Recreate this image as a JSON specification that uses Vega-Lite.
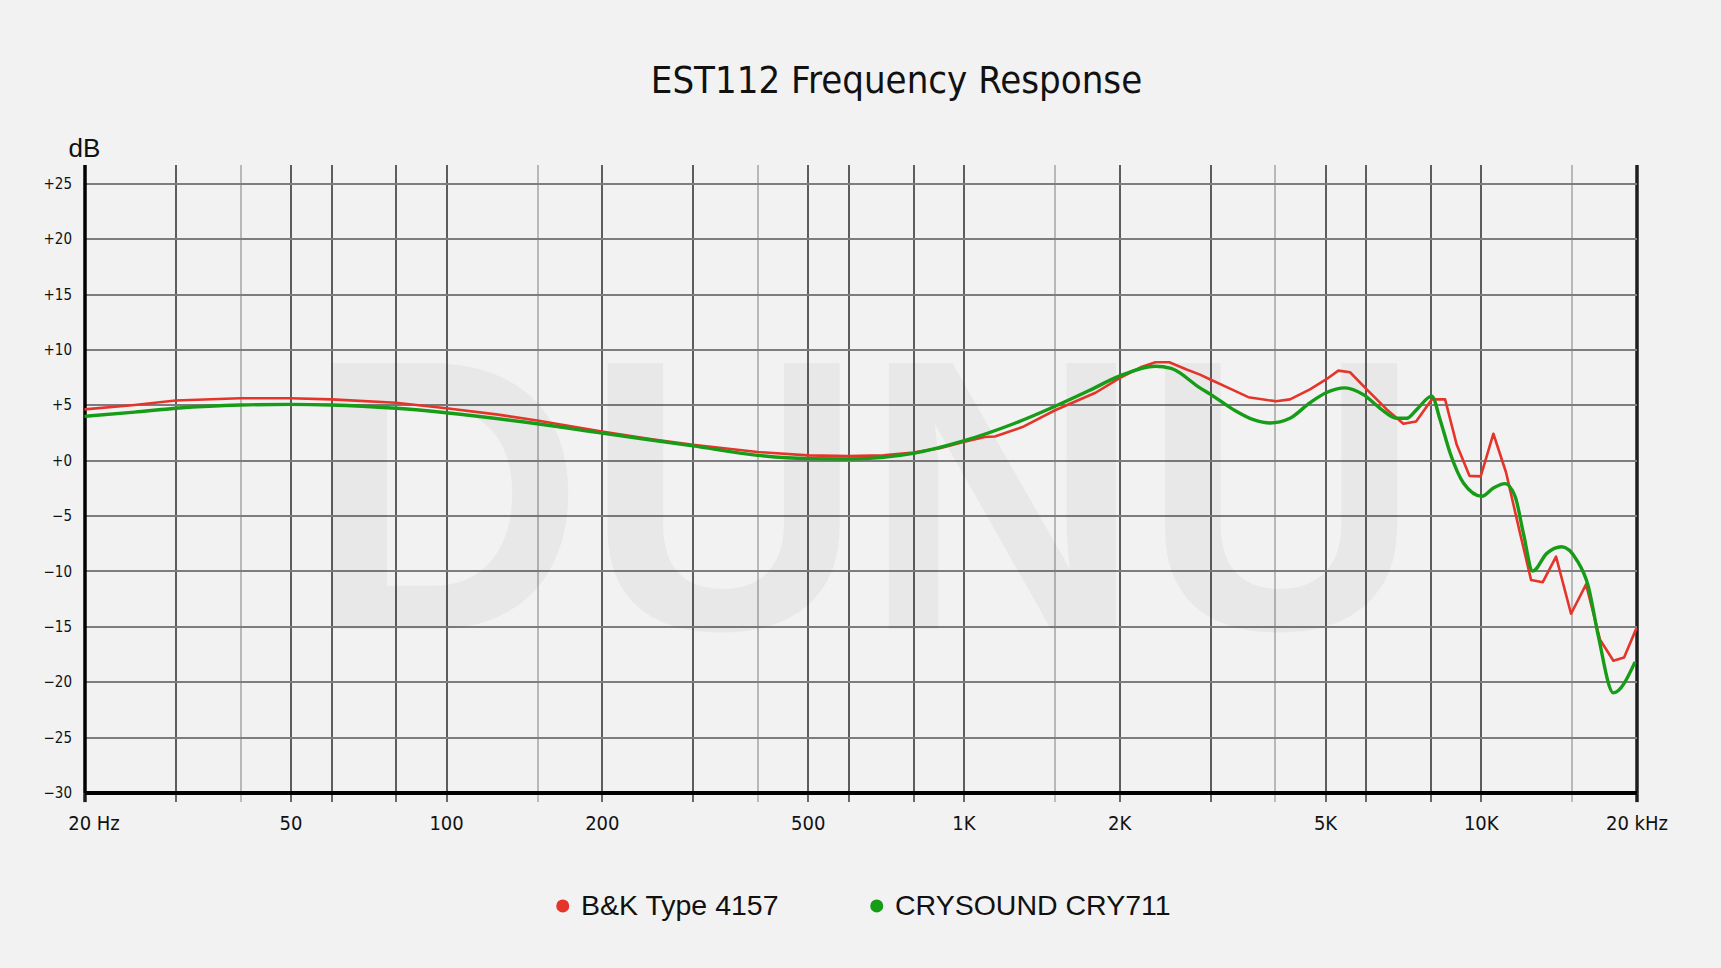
{
  "$schema": "https://vega.github.io/schema/vega-lite/v6.json",
  "description": "EST112 frequency response, B&K Type 4157 vs CRYSOUND CRY711",
  "width": 1552,
  "height": 628,
  "autosize": "none",
  "padding": {"left": 84.5, "top": 164.6, "right": 84.5, "bottom": 175.4},
  "background": "#f2f2f2",
  "config": {"view": {"stroke": null}, "font": "Liberation Sans"},
  "title": {
    "text": "EST112  Frequency Response",
    "font": "DejaVu Sans Condensed, sans-serif",
    "fontSize": 38,
    "fontWeight": "normal",
    "color": "#111111",
    "anchor": "middle",
    "frame": "group",
    "baseline": "alphabetic",
    "offset": 4,
    "dx": 36
  },
  "layer": [
    {
      "data": {"values": [{}]},
      "mark": {
        "type": "text",
        "font": "Liberation Sans",
        "fontWeight": "bold",
        "fontSize": 386,
        "align": "center",
        "baseline": "alphabetic",
        "color": "#000000",
        "opacity": 0.037
      },
      "encoding": {
        "x": {"datum": 640, "type": "quantitative"},
        "y": {"datum": -15.2, "type": "quantitative"},
        "text": {"value": "DUNU"}
      }
    },
    {
      "data": {
        "values": [
          {"mic": "B&K Type 4157", "freq": 20, "db": 4.6},
          {"mic": "B&K Type 4157", "freq": 25, "db": 5.0},
          {"mic": "B&K Type 4157", "freq": 30, "db": 5.4},
          {"mic": "B&K Type 4157", "freq": 40, "db": 5.6},
          {"mic": "B&K Type 4157", "freq": 50, "db": 5.6},
          {"mic": "B&K Type 4157", "freq": 60, "db": 5.5},
          {"mic": "B&K Type 4157", "freq": 80, "db": 5.2},
          {"mic": "B&K Type 4157", "freq": 100, "db": 4.7},
          {"mic": "B&K Type 4157", "freq": 125, "db": 4.15},
          {"mic": "B&K Type 4157", "freq": 150, "db": 3.6},
          {"mic": "B&K Type 4157", "freq": 200, "db": 2.6},
          {"mic": "B&K Type 4157", "freq": 250, "db": 1.9},
          {"mic": "B&K Type 4157", "freq": 300, "db": 1.4},
          {"mic": "B&K Type 4157", "freq": 400, "db": 0.75},
          {"mic": "B&K Type 4157", "freq": 500, "db": 0.45},
          {"mic": "B&K Type 4157", "freq": 600, "db": 0.38},
          {"mic": "B&K Type 4157", "freq": 700, "db": 0.45},
          {"mic": "B&K Type 4157", "freq": 800, "db": 0.7},
          {"mic": "B&K Type 4157", "freq": 900, "db": 1.1},
          {"mic": "B&K Type 4157", "freq": 1000, "db": 1.65},
          {"mic": "B&K Type 4157", "freq": 1100, "db": 2.1},
          {"mic": "B&K Type 4157", "freq": 1150, "db": 2.15},
          {"mic": "B&K Type 4157", "freq": 1200, "db": 2.45},
          {"mic": "B&K Type 4157", "freq": 1300, "db": 3.0},
          {"mic": "B&K Type 4157", "freq": 1500, "db": 4.5},
          {"mic": "B&K Type 4157", "freq": 1800, "db": 6.1},
          {"mic": "B&K Type 4157", "freq": 2000, "db": 7.4},
          {"mic": "B&K Type 4157", "freq": 2200, "db": 8.4},
          {"mic": "B&K Type 4157", "freq": 2350, "db": 8.85},
          {"mic": "B&K Type 4157", "freq": 2500, "db": 8.85},
          {"mic": "B&K Type 4157", "freq": 2700, "db": 8.2},
          {"mic": "B&K Type 4157", "freq": 2866, "db": 7.74},
          {"mic": "B&K Type 4157", "freq": 3000, "db": 7.3},
          {"mic": "B&K Type 4157", "freq": 3300, "db": 6.4},
          {"mic": "B&K Type 4157", "freq": 3554, "db": 5.7},
          {"mic": "B&K Type 4157", "freq": 4020, "db": 5.33},
          {"mic": "B&K Type 4157", "freq": 4278, "db": 5.5},
          {"mic": "B&K Type 4157", "freq": 4676, "db": 6.4},
          {"mic": "B&K Type 4157", "freq": 5022, "db": 7.3},
          {"mic": "B&K Type 4157", "freq": 5306, "db": 8.1},
          {"mic": "B&K Type 4157", "freq": 5588, "db": 7.95},
          {"mic": "B&K Type 4157", "freq": 6020, "db": 6.4},
          {"mic": "B&K Type 4157", "freq": 6580, "db": 4.6},
          {"mic": "B&K Type 4157", "freq": 7086, "db": 3.3},
          {"mic": "B&K Type 4157", "freq": 7498, "db": 3.5},
          {"mic": "B&K Type 4157", "freq": 8040, "db": 5.5},
          {"mic": "B&K Type 4157", "freq": 8532, "db": 5.5},
          {"mic": "B&K Type 4157", "freq": 8986, "db": 1.4},
          {"mic": "B&K Type 4157", "freq": 9508, "db": -1.4},
          {"mic": "B&K Type 4157", "freq": 9998, "db": -1.45},
          {"mic": "B&K Type 4157", "freq": 10578, "db": 2.4},
          {"mic": "B&K Type 4157", "freq": 11192, "db": -1.1},
          {"mic": "B&K Type 4157", "freq": 11912, "db": -6.6},
          {"mic": "B&K Type 4157", "freq": 12510, "db": -10.8},
          {"mic": "B&K Type 4157", "freq": 13178, "db": -11.0},
          {"mic": "B&K Type 4157", "freq": 13980, "db": -8.7},
          {"mic": "B&K Type 4157", "freq": 14946, "db": -13.85},
          {"mic": "B&K Type 4157", "freq": 15978, "db": -11.2},
          {"mic": "B&K Type 4157", "freq": 17006, "db": -16.2},
          {"mic": "B&K Type 4157", "freq": 18046, "db": -18.1},
          {"mic": "B&K Type 4157", "freq": 18924, "db": -17.8},
          {"mic": "B&K Type 4157", "freq": 20000, "db": -15.15},
          {"mic": "CRYSOUND CRY711", "freq": 20, "db": 3.97},
          {"mic": "CRYSOUND CRY711", "freq": 25, "db": 4.35},
          {"mic": "CRYSOUND CRY711", "freq": 30, "db": 4.7},
          {"mic": "CRYSOUND CRY711", "freq": 40, "db": 5.0},
          {"mic": "CRYSOUND CRY711", "freq": 50, "db": 5.05},
          {"mic": "CRYSOUND CRY711", "freq": 60, "db": 5.0},
          {"mic": "CRYSOUND CRY711", "freq": 80, "db": 4.7},
          {"mic": "CRYSOUND CRY711", "freq": 100, "db": 4.3},
          {"mic": "CRYSOUND CRY711", "freq": 150, "db": 3.3},
          {"mic": "CRYSOUND CRY711", "freq": 200, "db": 2.45},
          {"mic": "CRYSOUND CRY711", "freq": 300, "db": 1.3},
          {"mic": "CRYSOUND CRY711", "freq": 400, "db": 0.45},
          {"mic": "CRYSOUND CRY711", "freq": 500, "db": 0.15},
          {"mic": "CRYSOUND CRY711", "freq": 600, "db": 0.12},
          {"mic": "CRYSOUND CRY711", "freq": 800, "db": 0.63},
          {"mic": "CRYSOUND CRY711", "freq": 1000, "db": 1.75},
          {"mic": "CRYSOUND CRY711", "freq": 1250, "db": 3.3},
          {"mic": "CRYSOUND CRY711", "freq": 1500, "db": 4.86},
          {"mic": "CRYSOUND CRY711", "freq": 1750, "db": 6.3},
          {"mic": "CRYSOUND CRY711", "freq": 2000, "db": 7.6},
          {"mic": "CRYSOUND CRY711", "freq": 2350, "db": 8.5},
          {"mic": "CRYSOUND CRY711", "freq": 2520, "db": 8.3},
          {"mic": "CRYSOUND CRY711", "freq": 2866, "db": 6.54},
          {"mic": "CRYSOUND CRY711", "freq": 3010, "db": 5.93},
          {"mic": "CRYSOUND CRY711", "freq": 3326, "db": 4.58},
          {"mic": "CRYSOUND CRY711", "freq": 3635, "db": 3.67},
          {"mic": "CRYSOUND CRY711", "freq": 3914, "db": 3.37},
          {"mic": "CRYSOUND CRY711", "freq": 4278, "db": 3.8},
          {"mic": "CRYSOUND CRY711", "freq": 4676, "db": 5.2},
          {"mic": "CRYSOUND CRY711", "freq": 5022, "db": 6.1},
          {"mic": "CRYSOUND CRY711", "freq": 5466, "db": 6.54},
          {"mic": "CRYSOUND CRY711", "freq": 5930, "db": 5.93},
          {"mic": "CRYSOUND CRY711", "freq": 6388, "db": 4.7},
          {"mic": "CRYSOUND CRY711", "freq": 6880, "db": 3.8},
          {"mic": "CRYSOUND CRY711", "freq": 7192, "db": 3.8},
          {"mic": "CRYSOUND CRY711", "freq": 7518, "db": 4.58},
          {"mic": "CRYSOUND CRY711", "freq": 8040, "db": 5.8},
          {"mic": "CRYSOUND CRY711", "freq": 8344, "db": 3.67},
          {"mic": "CRYSOUND CRY711", "freq": 8724, "db": 0.66},
          {"mic": "CRYSOUND CRY711", "freq": 9258, "db": -2.05},
          {"mic": "CRYSOUND CRY711", "freq": 10056, "db": -3.25},
          {"mic": "CRYSOUND CRY711", "freq": 10578, "db": -2.5},
          {"mic": "CRYSOUND CRY711", "freq": 11142, "db": -2.1},
          {"mic": "CRYSOUND CRY711", "freq": 11650, "db": -3.25},
          {"mic": "CRYSOUND CRY711", "freq": 12090, "db": -6.6},
          {"mic": "CRYSOUND CRY711", "freq": 12602, "db": -10.0},
          {"mic": "CRYSOUND CRY711", "freq": 13416, "db": -8.4},
          {"mic": "CRYSOUND CRY711", "freq": 14340, "db": -7.8},
          {"mic": "CRYSOUND CRY711", "freq": 15330, "db": -9.0},
          {"mic": "CRYSOUND CRY711", "freq": 16144, "db": -11.4},
          {"mic": "CRYSOUND CRY711", "freq": 16880, "db": -15.9},
          {"mic": "CRYSOUND CRY711", "freq": 18046, "db": -21.0},
          {"mic": "CRYSOUND CRY711", "freq": 19876, "db": -18.2}
        ]
      },
      "encoding": {
        "x": {
          "field": "freq",
          "type": "quantitative",
          "scale": {"type": "log", "domain": [20, 20000], "nice": false},
          "axis": {
            "title": null,
            "values": [20, 30, 40, 50, 60, 80, 100, 150, 200, 300, 400, 500, 600, 800, 1000, 1500, 2000, 3000, 4000, 5000, 6000, 8000, 10000, 15000, 20000],
            "labelExpr": "datum.value == 20 ? '20 Hz' : datum.value == 20000 ? '20 kHz' : indexof([50, 100, 200, 500], datum.value) >= 0 ? '' + datum.value : indexof([1000, 2000, 5000, 10000], datum.value) >= 0 ? (datum.value / 1000) + 'K' : ''",
            "labelFont": "DejaVu Sans Condensed, sans-serif",
            "labelFontSize": 20,
            "labelColor": "#111111",
            "labelPadding": 12,
            "labelOffset": {"condition": {"test": "datum.value == 20", "value": 9}, "value": 0},
            "labelOverlap": false,
            "labelFlush": false,
            "labelBound": false,
            "ticks": true,
            "tickSize": 9,
            "tickColor": {"condition": {"test": "indexof([40, 150, 400, 1500, 4000, 15000], datum.value) >= 0", "value": "#a0a0a0"}, "value": "#1e1e1e"},
            "tickWidth": {"condition": {"test": "datum.value == 20000 || datum.value == 20", "value": 3.5}, "value": 1.3},
            "domain": true,
            "domainColor": "#000000",
            "domainWidth": 4,
            "grid": true,
            "gridColor": {"condition": {"test": "indexof([40, 150, 400, 1500, 4000, 15000], datum.value) >= 0", "value": "#a0a0a0"}, "value": "#1e1e1e"},
            "gridWidth": {"condition": {"test": "datum.value == 20000", "value": 3.5}, "value": 1.4}
          }
        },
        "y": {
          "field": "db",
          "type": "quantitative",
          "scale": {"domain": [-30, 26.7], "nice": false, "zero": false},
          "axis": {
            "title": "dB",
            "titleAngle": 0,
            "titleAlign": "left",
            "titleBaseline": "alphabetic",
            "titleX": -16.5,
            "titleY": -8.6,
            "titleFont": "Liberation Sans",
            "titleFontSize": 26,
            "titleFontWeight": "normal",
            "titleColor": "#111111",
            "values": [-30, -25, -20, -15, -10, -5, 0, 5, 10, 15, 20, 25],
            "labelExpr": "datum.value > 0 ? '+' + datum.value : datum.value == 0 ? '+0' : '\u2212' + abs(datum.value)",
            "labelFont": "DejaVu Sans Condensed, sans-serif",
            "labelFontSize": 15,
            "labelColor": "#111111",
            "labelPadding": 13,
            "ticks": false,
            "domain": true,
            "domainColor": "#000000",
            "domainWidth": 3.5,
            "grid": true,
            "gridColor": {"condition": {"test": "datum.value == -30", "value": "#000000"}, "value": "#7d7d7d"},
            "gridWidth": {"condition": {"test": "datum.value == -30", "value": 4}, "value": 2}
          }
        },
        "color": {
          "field": "mic",
          "type": "nominal",
          "scale": {"domain": ["B&K Type 4157", "CRYSOUND CRY711"], "range": ["#e5342a", "#169c16"]},
          "legend": {
            "title": null,
            "orient": "none",
            "legendX": 464,
            "legendY": 727,
            "direction": "horizontal",
            "symbolType": "circle",
            "symbolSize": 170,
            "symbolStrokeWidth": 0,
            "labelFont": "Liberation Sans",
            "labelFontSize": 28.5,
            "labelLimit": 0,
            "labelColor": "#111111",
            "labelOffset": 4,
            "columnPadding": 83,
            "encode": {"symbols": {"update": {"fill": {"scale": "color", "field": "value"}}}}
          }
        }
      },
      "layer": [
        {
          "transform": [{"filter": "datum.mic == 'B&K Type 4157'"}],
          "mark": {"type": "line", "interpolate": "linear", "strokeWidth": 2.6, "strokeJoin": "round"}
        },
        {
          "transform": [{"filter": "datum.mic == 'CRYSOUND CRY711'"}],
          "mark": {"type": "line", "interpolate": "monotone", "strokeWidth": 3.4, "strokeJoin": "round"}
        }
      ]
    }
  ]
}
